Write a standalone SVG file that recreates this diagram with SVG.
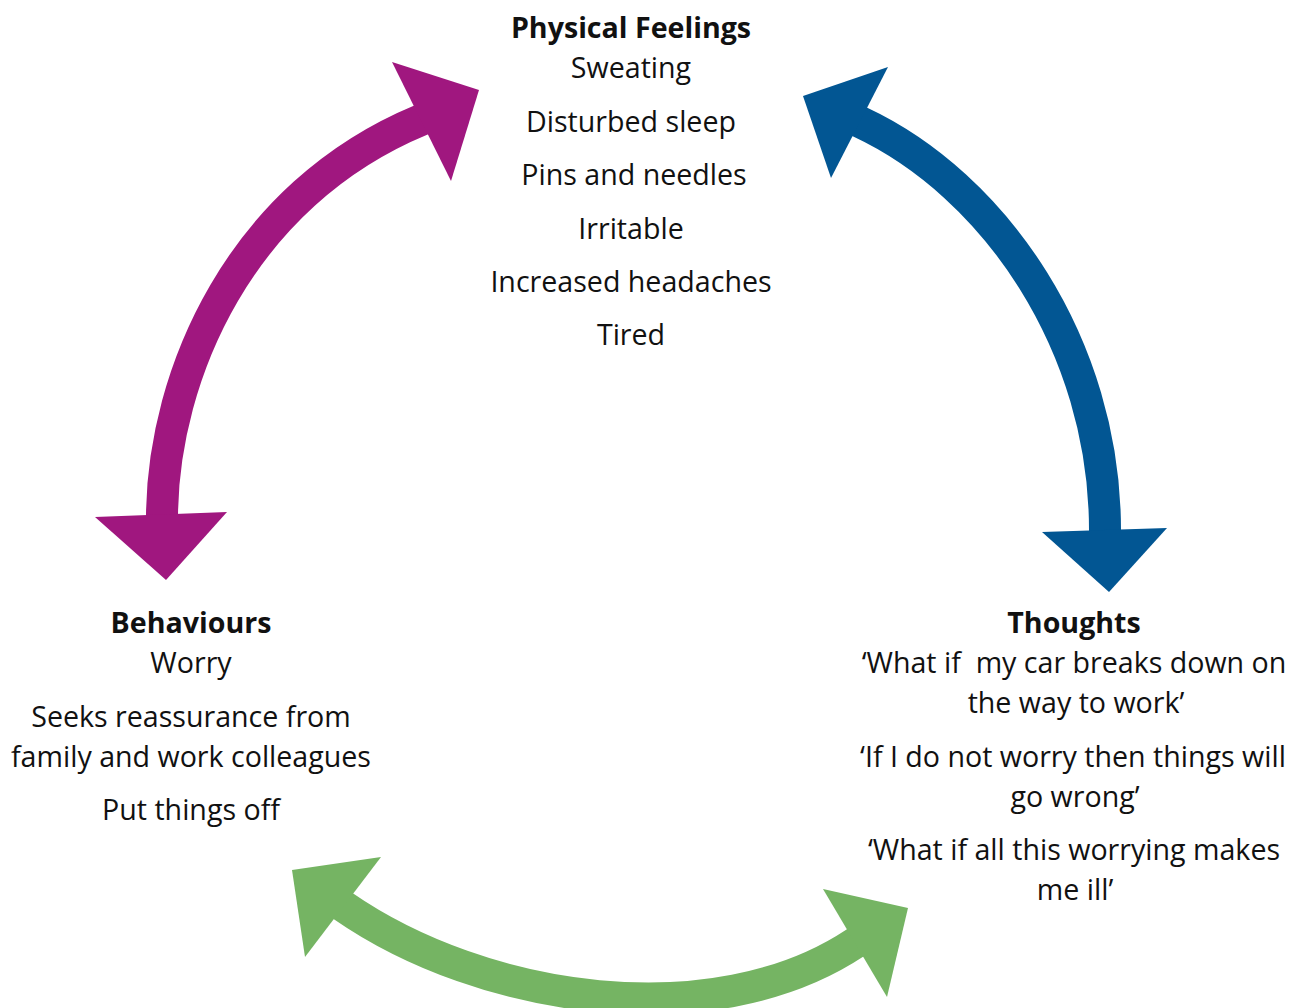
<svg xmlns="http://www.w3.org/2000/svg" width="1306" height="1008" viewBox="0 0 1306 1008">
<style>
  text { font-family: "Open Sans", "Noto Sans", "Liberation Sans", sans-serif; font-size: 28.6px; fill: #111; text-anchor: middle; }
  .title { font-weight: bold; }
  .shaft { fill: none; stroke-width: 32; stroke-linecap: butt; }
  .purple { stroke: #a0177f; } .purpleF { fill: #a0177f; }
  .blue { stroke: #025693; } .blueF { fill: #025693; }
  .green { stroke: #75b463; } .greenF { fill: #75b463; }
</style>
<rect width="1306" height="1008" fill="#ffffff"/>
<g id="connectors">
  <g id="arrow-physical-behaviours">
    <path class="shaft purple" d="M162,521 L162,516 C163,375 240,195 421,120 L427,117"/>
    <polygon class="purpleF" points="392,62 479,90 451,181"/>
    <polygon class="purpleF" points="95,517 227,512 166,580"/>
  </g>
  <g id="arrow-physical-thoughts">
    <path class="shaft blue" d="M855,119 L860,122 C995,185 1105,345 1105,530 L1105,535"/>
    <polygon class="blueF" points="888,67 803,96 831,178"/>
    <polygon class="blueF" points="1042,532 1167,528 1109,592"/>
  </g>
  <g id="arrow-behaviours-thoughts">
    <path class="shaft green" d="M338,902 L343,906 C483,1003 713,1037 855,943 L860,940"/>
    <polygon class="greenF" points="381,857 292,870 305,957"/>
    <polygon class="greenF" points="823,889 908,908 887,997"/>
  </g>
</g>
<g id="node-physical">
  <text class="title" x="631" y="38">Physical Feelings</text>
  <text x="631" y="78">Sweating</text>
  <text x="631" y="132">Disturbed sleep</text>
  <text x="634" y="185">Pins and needles</text>
  <text x="631" y="239">Irritable</text>
  <text x="631" y="292">Increased headaches</text>
  <text x="631" y="345">Tired</text>
</g>
<g id="node-thoughts">
  <text class="title" x="1074" y="633">Thoughts</text>
  <text x="1074" y="673" xml:space="preserve">‘What if  my car breaks down on</text>
  <text x="1076" y="713">the way to work’</text>
  <text x="1073" y="767">‘If I do not worry then things will</text>
  <text x="1075" y="807">go wrong’</text>
  <text x="1074" y="860">‘What if all this worrying makes</text>
  <text x="1075" y="900">me ill’</text>
</g>
<g id="node-behaviours">
  <text class="title" x="191" y="633">Behaviours</text>
  <text x="191" y="673">Worry</text>
  <text x="191" y="727">Seeks reassurance from</text>
  <text x="191" y="767">family and work colleagues</text>
  <text x="191" y="820">Put things off</text>
</g>
</svg>
